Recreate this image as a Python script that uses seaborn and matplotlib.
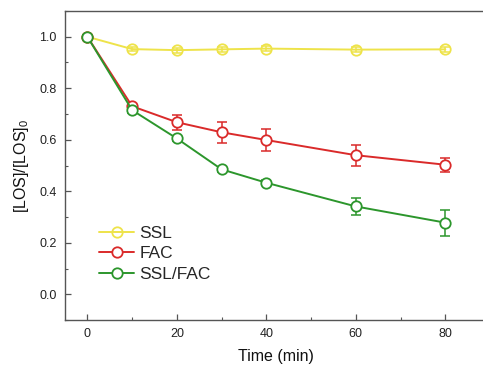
import matplotlib
matplotlib.use("Agg")
import matplotlib.pyplot as plt
import seaborn as sns
import pandas as pd
import numpy as np
from matplotlib.ticker import MultipleLocator

time = [0, 10, 20, 30, 40, 60, 80]
ssl = [1.0, 0.952, 0.948, 0.951, 0.954, 0.950, 0.951]
ssl_err = [0.005, 0.008, 0.01, 0.01, 0.01, 0.01, 0.01]
fac = [1.0, 0.730, 0.668, 0.629, 0.599, 0.540, 0.503]
fac_err = [0.005, 0.01, 0.03, 0.04, 0.042, 0.04, 0.028]
sslfac = [1.0, 0.715, 0.605, 0.485, 0.433, 0.341, 0.278]
sslfac_err = [0.005, 0.01, 0.01, 0.01, 0.01, 0.033, 0.05]

series = ["SSL", "FAC", "SSL/FAC"]
colors = {"SSL": "#EEE34A", "FAC": "#DA2A2A", "SSL/FAC": "#2C962C"}

df = pd.DataFrame({
    "Time": time * 3,
    "value": ssl + fac + sslfac,
    "err": ssl_err + fac_err + sslfac_err,
    "series": ["SSL"] * 7 + ["FAC"] * 7 + ["SSL/FAC"] * 7,
})

sns.set_style("ticks")
plt.rcParams["font.family"] = ["Liberation Sans", "DejaVu Sans"]
plt.rcParams["mathtext.fontset"] = "custom"
plt.rcParams["mathtext.rm"] = "Liberation Sans"
plt.rcParams["mathtext.it"] = "Liberation Sans"

fig = plt.figure(figsize=(4.83, 3.65), dpi=100)
ax = fig.add_axes([65 / 483, 45 / 365, 1 - 65 / 483 + 0.01, (320 - 11) / 365])

for i, s in enumerate(series):
    sub = df[df["series"] == s]
    c = colors[s]
    ax.errorbar(sub["Time"], sub["value"], yerr=sub["err"], fmt="none",
                ecolor=c, elinewidth=1.1, capsize=3.5, capthick=1.1, zorder=2 + 2 * i)
    sns.lineplot(data=sub, x="Time", y="value", color=c, label=s,
                 marker="o", markersize=7.5,
                 markerfacecolor=("none" if s == "SSL" else "white"),
                 markeredgecolor=c, markeredgewidth=1.3, linewidth=1.4,
                 ax=ax, zorder=3 + 2 * i)

ax.set_xlim(-5, 89.5)
ax.set_ylim(-0.1, 1.1)
ax.xaxis.set_major_locator(MultipleLocator(20))
ax.xaxis.set_minor_locator(MultipleLocator(10))
ax.set_yticks(np.arange(0, 1.01, 0.2))
ax.set_yticklabels([f"{v:.1f}" for v in np.arange(0, 1.01, 0.2)])
ax.yaxis.set_minor_locator(MultipleLocator(0.1))
ax.tick_params(axis="both", which="major", direction="in", length=4, width=0.9,
               color="#555555", labelsize=9, labelcolor="#222222", pad=6)
ax.tick_params(axis="both", which="minor", direction="in", length=2.5, width=0.8,
               color="#555555")
for sp in ax.spines.values():
    sp.set_color("#555555")
    sp.set_linewidth(1.0)

ax.set_xlabel("Time (min)", fontsize=11.5, color="#111111", labelpad=6)
ax.set_ylabel("[LOS]/[LOS]$_0$", fontsize=11.5, color="#111111", labelpad=6)

leg = ax.legend(loc="lower left", bbox_to_anchor=(0.065, 0.1),
                frameon=False, fontsize=12.5, handlelength=2.0, handletextpad=0.3,
                labelspacing=0.32, borderaxespad=0)

fig.savefig("out.png", dpi=100)
